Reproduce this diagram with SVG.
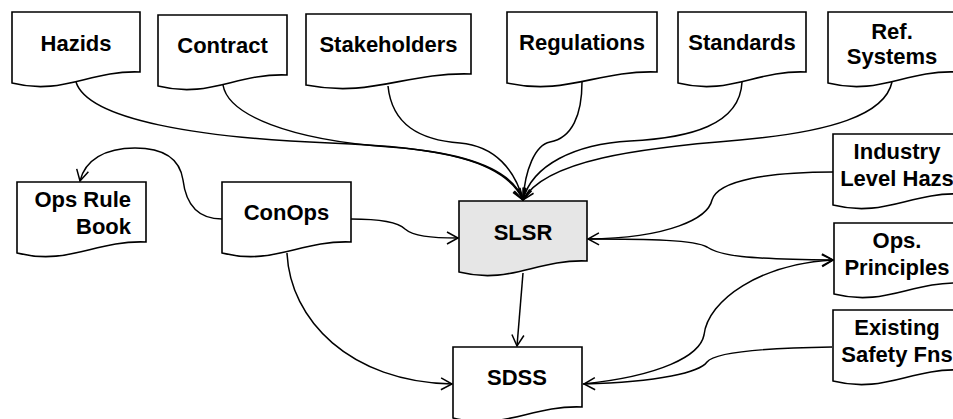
<svg xmlns="http://www.w3.org/2000/svg" width="953" height="419" viewBox="0 0 953 419">
<style>
.doc{fill:#ffffff;stroke:#000000;stroke-width:1.6}
.doc.gray{fill:#e6e6e6}
.lbl{font-family:"Liberation Sans",Arial,sans-serif;font-weight:bold;font-size:22px;fill:#000000;text-anchor:middle}
.end{text-anchor:end}
.c{fill:none;stroke:#000000;stroke-width:1.5}
.a{marker-end:url(#arr)}
</style>
<defs>
<marker id="arr" markerUnits="userSpaceOnUse" markerWidth="16" markerHeight="16" refX="12" refY="7" orient="auto">
<path d="M1,1 L12,7 L1,13" fill="none" stroke="#000000" stroke-width="1.5"/>
</marker>
</defs>
<rect width="953" height="419" fill="#ffffff"/>
<g id="connectors">
<path class="c a" d="M76,82 C88,120 200,138 330,143 C440,147 505,160 523,200"/>
<path class="c a" d="M223,85 C228,115 290,140 390,147 C460,152 512,168 523,200"/>
<path class="c a" d="M388,86 C392,125 420,140 460,143 C495,146 515,170 523,200"/>
<path class="c a" d="M582,82 C582,115 572,138 550,142 C535,145 525,170 523,200"/>
<path class="c a" d="M742,82 C740,125 690,138 630,141 C575,144 532,165 523,200"/>
<path class="c a" d="M892,82 C885,115 830,132 740,140 C640,148 545,160 523,200"/>
<path class="c a" d="M222,219 C198,219 186,205 183,180 C180,160 165,148 135,148 C105,148 85,160 80,181"/>
<path class="c a" d="M351,219 C380,219 398,222 405,229 C413,236 430,238 458,238"/>
<path class="c a" d="M287,253 C290,320 350,382 452,384"/>
<path class="c a" d="M833,172 C770,172 718,180 712,200 C708,218 670,238 588,239"/>
<path class="c a" d="M588,239 C650,239 695,240 707,247 C720,256 745,259 833,260"/>
<path class="c a" d="M583,384 C660,376 700,356 704,335 C708,300 760,264 833,260"/>
<path class="c a" d="M832,347 C760,348 715,352 707,362 C700,372 660,382 584,384"/>
<path class="c a" d="M523,273 L517,346"/>
</g>
<g id="hazids"><path class="doc" d="M12,12 H140 V72 C88.8,70 63.2,96 12,83 Z"/><text class="lbl" x="76" y="51">Hazids</text></g>
<g id="contract"><path class="doc" d="M158,15 H287 V75 C235.4,73 209.6,99 158,86 Z"/><text class="lbl" x="222.5" y="53">Contract</text></g>
<g id="stakeholders"><path class="doc" d="M306,14 H471 V74 C405,72 372,98 306,85 Z"/><text class="lbl" x="388.5" y="52">Stakeholders</text></g>
<g id="regulations"><path class="doc" d="M507,12 H657 V72 C597,70 567,96 507,83 Z"/><text class="lbl" x="582" y="50">Regulations</text></g>
<g id="standards"><path class="doc" d="M678,12 H806 V72 C754.8,70 729.2,96 678,83 Z"/><text class="lbl" x="742" y="50">Standards</text></g>
<g id="refsystems"><path class="doc" d="M828,12 H956 V72 C904.8,70 879.2,96 828,83 Z"/><text class="lbl" x="892" y="39">Ref.</text><text class="lbl" x="892" y="64">Systems</text></g>
<g id="opsrulebook"><path class="doc" d="M17,182 H146 V242 C94.4,240 68.6,266 17,253 Z"/><text class="lbl end" x="131" y="207">Ops Rule</text><text class="lbl end" x="131" y="234">Book</text></g>
<g id="conops"><path class="doc" d="M222,182 H351 V242 C299.4,240 273.6,266 222,253 Z"/><text class="lbl" x="286.5" y="220">ConOps</text></g>
<g id="slsr"><path class="doc gray" d="M459,201 H587 V261 C535.8,259 510.2,285 459,272 Z"/><text class="lbl" x="523" y="240">SLSR</text></g>
<g id="sdss"><path class="doc" d="M453,347 H582 V407 C530.4,405 504.6,431 453,418 Z"/><text class="lbl" x="517" y="385">SDSS</text></g>
<g id="industry"><path class="doc" d="M833,134 H961 V194 C909.8,192 884.2,218 833,205 Z"/><text class="lbl" x="897" y="159">Industry</text><text class="lbl" x="897" y="186">Level Hazs</text></g>
<g id="opsprinciples"><path class="doc" d="M834,223 H962 V283 C910.8,281 885.2,307 834,294 Z"/><text class="lbl" x="897" y="248">Ops.</text><text class="lbl" x="897" y="275">Principles</text></g>
<g id="existing"><path class="doc" d="M833,310 H961 V370 C909.8,368 884.2,394 833,381 Z"/><text class="lbl" x="897" y="335">Existing</text><text class="lbl" x="897" y="362">Safety Fns</text></g>
</svg>
